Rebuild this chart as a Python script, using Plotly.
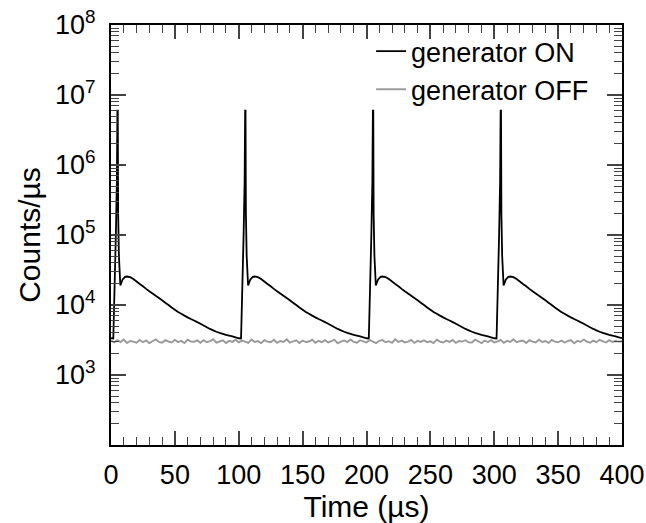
import plotly.graph_objects as go

# ---- data ----
# one pulse profile (time relative to spike peak, in us) and counts/us
PROFILE_T = [-3.2, -2.2, -1.2, -0.4, 0.0, 0.3, 0.6, 1.2, 2.3, 4, 6,
             7.5, 10, 12.5, 15, 17.5, 20, 22.5, 25, 27.5, 30, 32.5, 35, 37.5, 40,
             42.5, 45, 47.5, 50, 52.5, 55, 57.5, 60, 62.5, 65, 67.5, 70, 72.5, 75,
             77.5, 80, 82.5, 85, 87.5, 90, 92.5, 95]
PROFILE_V = [3330, 18000, 100000, 600000, 6000000, 6000000, 200000, 50000, 19000,
             23000, 25200,
             25500, 25000, 23500, 21700, 20000, 18500, 17000, 15700, 14600, 13600,
             12600, 11700, 10800, 10000, 9200, 8550, 7950, 7500, 7050, 6650, 6300,
             6000, 5700, 5400, 5100, 4800, 4550, 4350, 4150, 4000, 3870, 3750, 3650,
             3560, 3450, 3350]
PULSE_PEAKS = [5, 105, 205, 305]
START_T = [0.0]
START_V = [3350]

# generator OFF background (every 2.5 us from 0 to 400)
OFF_STEP = 2.5
OFF_V = [3080, 2920, 3150, 2960, 3210, 2870, 3060, 3000, 2900, 3170,
         2940, 3110, 2850, 3030, 3230, 2970, 2890, 3140, 3010, 2910,
         3180, 2950, 3070, 2860, 3200, 3000, 2980, 3120, 2890, 3150,
         2940, 3040, 3250, 2900, 3010, 3130, 2860, 3070, 2970, 3190,
         2920, 3100, 3000, 2880, 3210, 2960, 3050, 2850, 3140, 3000,
         2940, 3180, 2890, 3060, 2970, 3240, 2910, 3030, 3130, 2870,
         3100, 2960, 3010, 3200, 2890, 3070, 2940, 3150, 2920, 3040,
         3180, 2840, 3000, 3110, 2950, 3210, 2970, 2890, 3140, 3030,
         2910, 3170, 3000, 2860, 3080, 3150, 2940, 3040, 2890, 3230,
         2960, 3100, 2920, 3000, 3180, 2880, 3070, 2970, 3130, 2940,
         3030, 2860, 3200, 3000, 2910, 3110, 2970, 3170, 2880, 3060,
         3000, 3140, 2940, 2920, 3210, 3030, 2850, 3100, 2960, 3150,
         2910, 3010, 3180, 2890, 3070, 2970, 3240, 2940, 3040, 3110,
         2860, 3140, 3000, 2920, 3200, 2960, 3060, 2880, 3170, 3000,
         2940, 3110, 2910, 3040, 3150, 2850, 3070, 2970, 3210, 3000,
         2890, 3100, 2940, 3180, 3030, 2910, 3140, 2960, 3060, 3000, 3030]

X_TICKS = [0, 50, 100, 150, 200, 250, 300, 350, 400]
Y_TICKS = [1e3, 1e4, 1e5, 1e6, 1e7, 1e8]
Y_TICK_TEXT = ["10<sup>3</sup>", "10<sup>4</sup>", "10<sup>5</sup>",
               "10<sup>6</sup>", "10<sup>7</sup>", "10<sup>8</sup>"]

# ---- build series ----
on_t = list(START_T)
on_v = list(START_V)
for p in PULSE_PEAKS:
    for dt, v in zip(PROFILE_T, PROFILE_V):
        on_t.append(p + dt)
        on_v.append(v)
off_t = [i * OFF_STEP for i in range(len(OFF_V))]

y_minor = [m * 10 ** e for e in range(2, 8) for m in range(2, 10)]
x_minor = [v for v in range(0, 401, 10) if v % 50 != 0]

FONT = "Liberation Sans, Arial, sans-serif"

fig = go.Figure()
fig.add_trace(go.Scatter(x=on_t, y=on_v, mode="lines", name="generator ON",
                         line=dict(color="black", width=1.8, simplify=False)))
fig.add_trace(go.Scatter(x=off_t, y=OFF_V, mode="lines", name="generator OFF",
                         line=dict(color="#999999", width=1.9, simplify=False)))

fig.update_layout(
    width=646, height=523,
    margin=dict(l=111, r=24, t=25, b=78, autoexpand=False),
    paper_bgcolor="white", plot_bgcolor="white",
    font=dict(family=FONT, size=27, color="black"),
    showlegend=True,
    legend=dict(x=0.509, y=0.995, xanchor="left", yanchor="top",
                bgcolor="rgba(0,0,0,0)", font=dict(size=27), tracegroupgap=0),
)
fig.update_xaxes(
    range=[0, 400], tickvals=X_TICKS, ticks="inside", ticklen=14, tickwidth=1.5,
    showline=True, linecolor="black", linewidth=2, mirror="allticks",
    showgrid=False, zeroline=False, tickfont=dict(size=27), automargin=False,
    minor=dict(tickvals=x_minor, ticks="inside", ticklen=8, tickwidth=1.2, showgrid=False),
    title=dict(text="Time (\u00b5s)", font=dict(size=30), standoff=8),
    ticklabelstandoff=5,
)
fig.update_yaxes(
    type="log", range=[2, 8], tickvals=Y_TICKS, ticktext=Y_TICK_TEXT,
    ticks="inside", ticklen=15, tickwidth=1.5,
    showline=True, linecolor="black", linewidth=2, mirror="allticks",
    showgrid=False, zeroline=False, tickfont=dict(size=27), automargin=False,
    minor=dict(tickvals=y_minor, ticks="inside", ticklen=8, tickwidth=1.2, showgrid=False),
    title=dict(text="Counts/\u00b5s", font=dict(size=30), standoff=6),
    ticklabelstandoff=8,
)

fig.write_html("out.html")
